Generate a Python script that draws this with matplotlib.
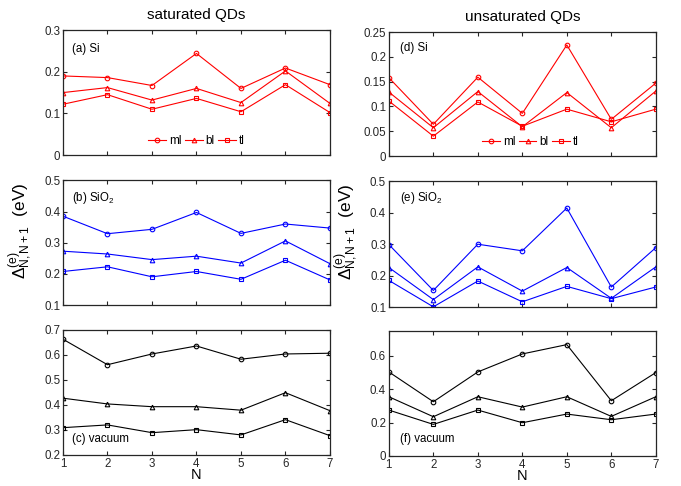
import matplotlib
matplotlib.use('Agg')
import matplotlib.pyplot as plt

plt.rcParams['font.family'] = ['Liberation Sans', 'DejaVu Sans']
plt.rcParams['mathtext.fontset'] = 'custom'
plt.rcParams['mathtext.rm'] = 'Liberation Sans'
plt.rcParams['mathtext.it'] = 'Liberation Sans:italic'

N = [1, 2, 3, 4, 5, 6, 7]
labels = ['ml', 'bl', 'tl']
markers = ['o', '^', 's']

# saturated QDs
sat_si = [[0.190, 0.186, 0.167, 0.244, 0.160, 0.209, 0.169],
          [0.150, 0.162, 0.132, 0.160, 0.126, 0.202, 0.124],
          [0.122, 0.145, 0.110, 0.136, 0.104, 0.169, 0.102]]
sat_sio2 = [[0.385, 0.329, 0.343, 0.397, 0.330, 0.360, 0.347],
            [0.273, 0.264, 0.246, 0.257, 0.235, 0.306, 0.233],
            [0.208, 0.223, 0.191, 0.208, 0.183, 0.244, 0.181]]
sat_vac = [[0.663, 0.561, 0.604, 0.636, 0.583, 0.604, 0.607],
           [0.427, 0.404, 0.393, 0.393, 0.379, 0.449, 0.377],
           [0.309, 0.320, 0.289, 0.301, 0.280, 0.341, 0.277]]

# unsaturated QDs
uns_si = [[0.158, 0.064, 0.159, 0.086, 0.224, 0.074, 0.147],
          [0.129, 0.057, 0.130, 0.059, 0.128, 0.057, 0.131],
          [0.111, 0.040, 0.109, 0.060, 0.0945, 0.069, 0.0945]]
uns_sio2 = [[0.299, 0.153, 0.300, 0.279, 0.415, 0.164, 0.289],
            [0.226, 0.124, 0.228, 0.151, 0.226, 0.128, 0.228],
            [0.185, 0.101, 0.183, 0.117, 0.166, 0.127, 0.164]]
uns_vac = [[0.504, 0.325, 0.504, 0.612, 0.668, 0.331, 0.500],
           [0.355, 0.235, 0.355, 0.293, 0.355, 0.237, 0.355],
           [0.275, 0.189, 0.275, 0.199, 0.251, 0.217, 0.251]]

yt_a = [0, 0.1, 0.2, 0.3]
yl_a = ['0', '0.1', '0.2', '0.3']
yt_b = [0.1, 0.2, 0.3, 0.4, 0.5]
yl_b = ['0.1', '0.2', '0.3', '0.4', '0.5']
yt_c = [0.2, 0.3, 0.4, 0.5, 0.6, 0.7]
yl_c = ['0.2', '0.3', '0.4', '0.5', '0.6', '0.7']
yt_d = [0, 0.05, 0.1, 0.15, 0.2, 0.25]
yl_d = ['0', '0.05', '0.1', '0.15', '0.2', '0.25']
yt_f = [0, 0.2, 0.4, 0.6]
yl_f = ['0', '0.2', '0.4', '0.6']

fig = plt.figure(figsize=(6.81, 4.86), dpi=100)

W = 0.392
XL, XR = 0.0925, 0.571
panels = [
    # pos, data, color, ylim, ticks, ticklabels, label, label xy
    ([XL, 0.681, W, 0.257], sat_si, 'red', (0, 0.3), yt_a, yl_a, '(a) Si', (0.035, 0.85)),
    ([XL, 0.372, W, 0.257], sat_sio2, 'blue', (0.1, 0.5), yt_b, yl_b, '(b) SiO$_2$', (0.035, 0.855)),
    ([XL, 0.064, W, 0.257], sat_vac, 'black', (0.2, 0.7), yt_c, yl_c, '(c) vacuum', (0.035, 0.13)),
    ([XR, 0.679, W, 0.255], uns_si, 'red', (0, 0.25), yt_d, yl_d, '(d) Si', (0.041, 0.87)),
    ([XR, 0.368, W, 0.259], uns_sio2, 'blue', (0.1, 0.5), yt_b, yl_b, '(e) SiO$_2$', (0.041, 0.865)),
    ([XR, 0.062, W, 0.257], uns_vac, 'black', (0, 0.75), yt_f, yl_f, '(f) vacuum', (0.041, 0.135)),
]

axes = []
for i, (pos, data, col, ylim, yt, yl, lab, lxy) in enumerate(panels):
    ax = fig.add_axes(pos)
    for k in range(3):
        ax.plot(N, data[k], color=col, marker=markers[k], markersize=3.3,
                markerfacecolor='none', markeredgewidth=0.8, linewidth=0.8,
                label=labels[k])
    ax.set_xlim(1, 7)
    ax.set_ylim(*ylim)
    ax.set_xticks(N)
    ax.set_yticks(yt)
    ax.set_yticklabels(yl)
    ax.tick_params(direction='in', top=True, right=True, length=3, width=0.8,
                   labelsize=8.3, pad=2, colors='#262626')
    for s in ax.spines.values():
        s.set_linewidth(0.9)
        s.set_color('#262626')
    ax.text(lxy[0], lxy[1], lab, transform=ax.transAxes, fontsize=8.3, va='center')
    if i % 3 != 2:
        ax.set_xticklabels([])
    else:
        ax.set_xlabel('N', fontsize=10.5, labelpad=-1)
    if i % 3 == 1:
        ax.set_ylabel(r'$\Delta^{(\mathrm{e})}_{\mathrm{N,N+1}}$  (eV)', fontsize=12.5)
        ax.yaxis.set_label_coords(-0.109, 0.6)
    if i % 3 == 0:
        bx = 0.5 if i == 0 else 0.53
        ax.legend(loc='lower center', ncol=3, frameon=False, fontsize=8.5,
                  handlelength=1.5, columnspacing=0.3, handletextpad=0.25,
                  bbox_to_anchor=(bx, -0.02))
    axes.append(ax)

axes[0].set_title('saturated QDs', fontsize=11, pad=8)
axes[3].set_title('unsaturated QDs', fontsize=11, pad=8)

fig.savefig('out.png', dpi=100)
